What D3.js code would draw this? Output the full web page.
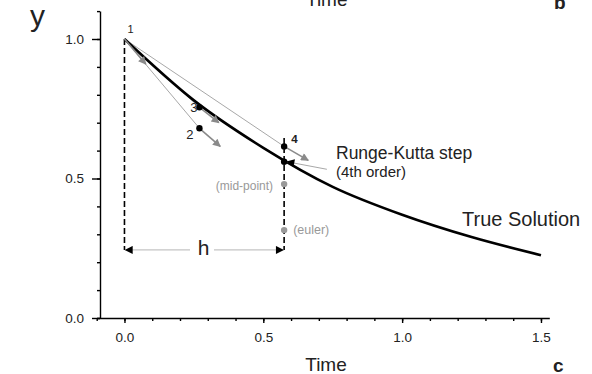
<!DOCTYPE html>
<html>
<head>
<meta charset="utf-8">
<script src="https://cdn.jsdelivr.net/npm/d3@7"></script>
<style>
  body { margin: 0; background: #fff; }
  text { font-family: "Liberation Sans", Arial, sans-serif; }
</style>
</head>
<body>
<script>
const width = 592;
const height = 374;

// true solution
const trueT = [0, 0.25, 0.5, 0.75, 1.0, 1.25, 1.5];
const trueY = [1.0, 0.78, 0.61, 0.47, 0.37, 0.29, 0.225];

// step points [t, y]
const p1 = [0, 1.0];
const p2 = [0.27, 0.68];
const p3 = [0.27, 0.755];
const p4 = [0.575, 0.615];
const rk = [0.575, 0.56];
const mid = [0.575, 0.48];
const euler = [0.575, 0.315];

// derivative arrow tips
const tip1 = [0.077, 0.91];
const tip2 = [0.345, 0.615];
const tip3 = [0.34, 0.70];
const tip4 = [0.662, 0.565];
const rkPointerFrom = [0.729, 0.533];

const hLevel = 0.244;
const rightDashTop = 0.645;

const xMajor = [0, 0.5, 1.0, 1.5];
const xMinor = [-0.1, 0, 0.1, 0.2, 0.3, 0.4, 0.5, 0.6, 0.7, 0.8, 0.9, 1.0, 1.1, 1.2, 1.3, 1.4, 1.5];
const yMajor = [0, 0.5, 1.0];
const yMinor = [0, 0.1, 0.2, 0.3, 0.4, 0.5, 0.6, 0.7, 0.8, 0.9, 1.0, 1.1];

const x = d3.scaleLinear().domain([-0.1, 1.53]).range([96.7, 549.3]);
const y = d3.scaleLinear().domain([0, 1.1]).range([318, 11.1]);

const svg = d3.select("body").append("svg")
    .attr("width", width)
    .attr("height", height);

const defs = svg.append("defs");
[["grayHead", "#8a8a8a"], ["blackHead", "#000"]].forEach(([id, c]) => {
  defs.append("marker")
      .attr("id", id)
      .attr("viewBox", "0 0 10 10")
      .attr("refX", 9).attr("refY", 5)
      .attr("markerWidth", 10).attr("markerHeight", 8)
      .attr("markerUnits", "userSpaceOnUse")
      .attr("orient", "auto")
    .append("path")
      .attr("d", "M0,0L10,5L0,10z")
      .attr("fill", c);
});

// axes
const yAxis = svg.append("g").attr("transform", "translate(100,0)");
yAxis.call(d3.axisLeft(y).tickValues(yMinor).tickSize(3).tickFormat("").tickSizeOuter(0));
yAxis.append("g").call(d3.axisLeft(y).tickValues(yMajor).tickSize(8).tickPadding(8)
    .tickFormat(d3.format(".1f"))).select(".domain").remove();

const xAxis = svg.append("g").attr("transform", "translate(0,318)");
xAxis.call(d3.axisBottom(x).tickValues(xMinor).tickSize(3).tickFormat("").tickSizeOuter(0));
xAxis.append("g").call(d3.axisBottom(x).tickValues(xMajor).tickSize(5).tickPadding(9)
    .tickFormat(d3.format(".1f"))).select(".domain").remove();

svg.selectAll(".domain, .tick line").attr("stroke", "#000").attr("stroke-width", 1.4);
svg.selectAll(".tick text").attr("font-size", 13.5).attr("fill", "#222")
    .attr("font-family", "Liberation Sans, Arial, sans-serif");

// dashed verticals
const dash = svg.append("g").attr("stroke", "#000").attr("stroke-width", 1.6)
    .attr("stroke-dasharray", "6,3");
dash.append("line").attr("x1", x(p1[0])).attr("x2", x(p1[0]))
    .attr("y1", y(p1[1])).attr("y2", y(hLevel));
dash.append("line").attr("x1", x(p4[0])).attr("x2", x(p4[0]))
    .attr("y1", y(rightDashTop)).attr("y2", y(hLevel));

// h arrow
svg.append("line")
    .attr("x1", x(0.5 * p4[0])).attr("x2", x(0) + 1)
    .attr("y1", y(hLevel)).attr("y2", y(hLevel))
    .attr("stroke", "#c4c4c4").attr("stroke-width", 1.2)
    .attr("marker-end", "url(#blackHead)");
svg.append("line")
    .attr("x1", x(0.5 * p4[0])).attr("x2", x(p4[0]) - 1)
    .attr("y1", y(hLevel)).attr("y2", y(hLevel))
    .attr("stroke", "#c4c4c4").attr("stroke-width", 1.2)
    .attr("marker-end", "url(#blackHead)");
svg.append("rect").attr("x", 190).attr("y", y(hLevel) - 4).attr("width", 24).attr("height", 8)
    .attr("fill", "#fff");
svg.append("text").attr("x", 203.5).attr("y", 255).attr("text-anchor", "middle")
    .attr("font-size", 21).attr("fill", "#222").text("h");

// thin guide lines from point 1
svg.append("g").attr("stroke", "#a8a8a8").attr("stroke-width", 1)
  .selectAll("line").data([p2, p3, p4]).join("line")
    .attr("x1", x(p1[0])).attr("y1", y(p1[1]))
    .attr("x2", d => x(d[0])).attr("y2", d => y(d[1]));

// true solution
svg.append("path")
    .datum(d3.zip(trueT, trueY))
    .attr("fill", "none").attr("stroke", "#000").attr("stroke-width", 2.6)
    .attr("d", d3.line().x(d => x(d[0])).y(d => y(d[1])).curve(d3.curveMonotoneX));

// derivative arrows
svg.append("g").attr("stroke", "#8a8a8a").attr("stroke-width", 1.6)
  .selectAll("line").data([[p1, tip1], [p2, tip2], [p3, tip3], [p4, tip4]]).join("line")
    .attr("x1", d => x(d[0][0])).attr("y1", d => y(d[0][1]))
    .attr("x2", d => x(d[1][0])).attr("y2", d => y(d[1][1]))
    .attr("marker-end", "url(#grayHead)");

// pointer to RK result
svg.append("line")
    .attr("x1", x(rkPointerFrom[0])).attr("y1", y(rkPointerFrom[1]))
    .attr("x2", x(rk[0]) + 3).attr("y2", y(rk[1]))
    .attr("stroke", "#a8a8a8").attr("stroke-width", 1)
    .attr("marker-end", "url(#blackHead)");

// dots
svg.append("g").selectAll("circle").data([p2, p3, p4, rk]).join("circle")
    .attr("cx", d => x(d[0])).attr("cy", d => y(d[1])).attr("r", 3.2).attr("fill", "#000");
svg.append("g").selectAll("circle").data([mid, euler]).join("circle")
    .attr("cx", d => x(d[0])).attr("cy", d => y(d[1])).attr("r", 3.2).attr("fill", "#999");

// labels
const label = (tx, ty, s, size, opts = {}) => svg.append("text")
    .attr("x", tx).attr("y", ty).attr("font-size", size)
    .attr("fill", opts.fill || "#222")
    .attr("text-anchor", opts.anchor || "start")
    .attr("font-weight", opts.weight || "normal")
    .attr("font-family", opts.family || null)
    .text(s);

label(x(p1[0]) + 3, y(p1[1]) - 6, "1", 11);
label(x(p3[0]) - 2, y(p3[1]) + 5, "3", 13, { anchor: "end" });
label(x(p2[0]) - 6, y(p2[1]) + 11, "2", 13, { anchor: "end" });
label(x(p4[0]) + 7, y(p4[1]) - 3, "4", 11.5, { weight: "bold" });
label(x(mid[0]) - 11, y(mid[1]) + 6, "(mid-point)", 12, { anchor: "end", fill: "#999" });
label(x(euler[0]) + 9, y(euler[1]) + 4, "(euler)", 12.5, { fill: "#999" });
label(336, 159, "Runge-Kutta step", 17.5);
label(336, 177, "(4th order)", 15);
label(462, 226, "True Solution", 20);
label(30, 26, "y", 30);
label(326, 371, "Time", 19, { anchor: "middle" });
label(306, 6, "Time", 19);
label(553, 372, "c", 19, { weight: "bold", family: "Liberation Serif, serif" });
label(554, 9, "b", 19, { weight: "bold", family: "Liberation Serif, serif" });
</script>
</body>
</html>
